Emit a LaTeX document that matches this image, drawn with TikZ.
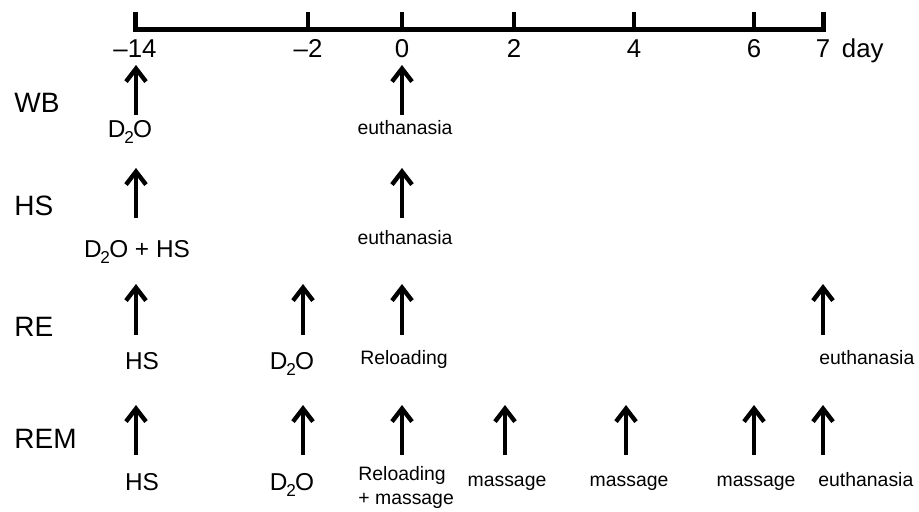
\documentclass[tikz,border=0pt]{standalone}
\usepackage{fontspec}
\setmainfont{Liberation Sans}
\usetikzlibrary{arrows.meta, positioning}

\newcommand{\dtwoo}{D\kern-0.6pt\raisebox{-3.2pt}{\fontsize{8.6}{8.6}\selectfont 2}\kern-0.4ptO}

\begin{document}
\begin{tikzpicture}[
  x=0.5pt, y=-0.5pt,
  axis/.style   = {line width=2.5pt, line join=miter},
  tickln/.style = {line width=2.2pt},
  evt/.style    = {line width=2.2pt, -{Straight Barb[length=6.5pt, width=10pt]}},
  num/.style    = {inner sep=0pt, font=\fontsize{12.9}{14}\selectfont},
  grp/.style    = {inner sep=0pt, anchor=base west, font=\fontsize{14}{16}\selectfont},
  lblbig/.style = {inner sep=0pt, anchor=base, font=\fontsize{12.2}{14}\selectfont},
  lblsm/.style  = {inner sep=0pt, anchor=base, font=\fontsize{9.7}{12}\selectfont},
]
  \useasboundingbox (0,0) rectangle (919,511);

  % time axis
  \coordinate (top)  at (0,12);
  \coordinate (dm14) at (135,29.5);
  \coordinate (dm2)  at (308,29.5);
  \coordinate (d0)   at (402,29.5);
  \coordinate (d2)   at (514,29.5);
  \coordinate (d4)   at (634,29.5);
  \coordinate (d6)   at (754,29.5);
  \coordinate (d7)   at (823,29.5);

  \draw[axis] (dm14 |- top) -- (dm14) -- (d7) -- (d7 |- top);
  \draw[tickln] (dm2) -- (dm2 |- top);
  \draw[tickln] (d0)  -- (d0 |- top);
  \draw[tickln] (d2)  -- (d2 |- top);
  \draw[tickln] (d4)  -- (d4 |- top);
  \draw[tickln] (d6)  -- (d6 |- top);

  \node[num, below=5pt of dm14] (nm14) {\textendash14};
  \node[num, below=5pt of dm2]  (nm2)  {\textendash2};
  \node[num, below=5pt of d0]   (n0)   {0};
  \node[num, below=5pt of d2]   (n2)   {2};
  \node[num, below=5pt of d4]   (n4)   {4};
  \node[num, below=5pt of d6]   (n6)   {6};
  \node[num, below=5pt of d7]   (n7)   {7};
  \node[num, base right=5.5pt of n7] (nday) {day};

  % groups
  \node[grp] (gWB)  at (14,112) {WB};
  \node[grp] (gHS)  at (14,215) {HS};
  \node[grp] (gRE)  at (14,336) {RE};
  \node[grp] (gREM) at (14,448) {REM};

  % WB
  \coordinate (wb1s) at (136,115); \coordinate (wb1e) at (136,65);
  \coordinate (wb2s) at (402,115); \coordinate (wb2e) at (402,65);
  \draw[evt] (wb1s) -- (wb1e);
  \draw[evt] (wb2s) -- (wb2e);
  \node[lblbig] (wbl1) at (130,137) {\dtwoo};
  \node[lblsm]  (wbl2) at (405,134) {euthanasia};

  % HS
  \coordinate (hs1s) at (136,218); \coordinate (hs1e) at (136,168);
  \coordinate (hs2s) at (402,218); \coordinate (hs2e) at (402,168);
  \draw[evt] (hs1s) -- (hs1e);
  \draw[evt] (hs2s) -- (hs2e);
  \node[lblbig] (hsl1) at (137,257) {\dtwoo{} + HS};
  \node[lblsm]  (hsl2) at (405,244) {euthanasia};

  % RE
  \coordinate (re1s) at (136,335); \coordinate (re1e) at (136,284);
  \coordinate (re2s) at (303,335); \coordinate (re2e) at (303,284);
  \coordinate (re3s) at (402,335); \coordinate (re3e) at (402,284);
  \coordinate (re4s) at (823,335); \coordinate (re4e) at (823,284);
  \draw[evt] (re1s) -- (re1e);
  \draw[evt] (re2s) -- (re2e);
  \draw[evt] (re3s) -- (re3e);
  \draw[evt] (re4s) -- (re4e);
  \node[lblbig] (rel1) at (142,369) {HS};
  \node[lblbig] (rel2) at (292,369) {\dtwoo};
  \node[lblsm]  (rel3) at (404,364) {Reloading};
  \node[lblsm, anchor=base west] (rel4) at (819,364) {euthanasia};

  % REM
  \coordinate (rem1s) at (136,455); \coordinate (rem1e) at (136,405);
  \coordinate (rem2s) at (303,455); \coordinate (rem2e) at (303,405);
  \coordinate (rem3s) at (402,455); \coordinate (rem3e) at (402,405);
  \coordinate (rem4s) at (505,455); \coordinate (rem4e) at (505,405);
  \coordinate (rem5s) at (626,455); \coordinate (rem5e) at (626,405);
  \coordinate (rem6s) at (754,455); \coordinate (rem6e) at (754,405);
  \coordinate (rem7s) at (823,455); \coordinate (rem7e) at (823,405);
  \draw[evt] (rem1s) -- (rem1e);
  \draw[evt] (rem2s) -- (rem2e);
  \draw[evt] (rem3s) -- (rem3e);
  \draw[evt] (rem4s) -- (rem4e);
  \draw[evt] (rem5s) -- (rem5e);
  \draw[evt] (rem6s) -- (rem6e);
  \draw[evt] (rem7s) -- (rem7e);
  \node[lblbig] (reml1) at (142,490) {HS};
  \node[lblbig] (reml2) at (292,490) {\dtwoo};
  \node[lblsm, anchor=north west, align=left] (reml3) at (358,466) {Reloading\\+ massage};
  \node[lblsm]  (reml4) at (507,486) {massage};
  \node[lblsm]  (reml5) at (629,486) {massage};
  \node[lblsm]  (reml6) at (756,486) {massage};
  \node[lblsm, anchor=base west] (reml7) at (818,486) {euthanasia};
\end{tikzpicture}
\end{document}
